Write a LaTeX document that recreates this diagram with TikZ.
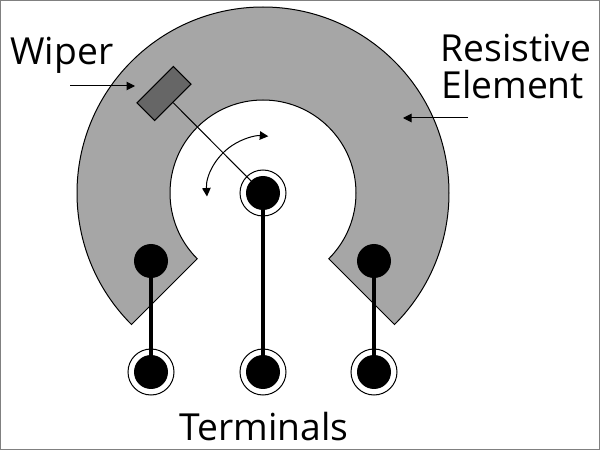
\documentclass[tikz,border=0pt]{standalone}
\usepackage{fontspec}
\setmainfont{Open Sans}
\usetikzlibrary{positioning}
\usetikzlibrary{arrows.meta}
\definecolor{elementgray}{HTML}{A6A6A6}
\definecolor{wipergray}{HTML}{666666}
\definecolor{framegray}{HTML}{808080}
\tikzset{
    thin line/.style={line width=0.02cm},
    pointer/.style={thin line,-{Triangle[length=0.17cm,width=0.17cm]}},
    dot/.style={circle,fill=black,inner sep=0pt,minimum size=0.68cm},
    ring/.style={circle,draw,thin line,fill=white,inner sep=0pt,minimum size=0.92cm},
    lead/.style={line width=0.08cm},
    label text/.style={font=\fontsize{21.2pt}{27pt}\selectfont,inner sep=0pt}
}
\begin{document}
\begin{tikzpicture}
    \useasboundingbox (0,0) rectangle (12,9);
    \draw[framegray,line width=0.06cm] (0,0) rectangle (12,9);

    %draw resistive element
    \draw[thin line,fill=elementgray] (5.26,5.14) ++(225:1.86)
        arc[start angle=225,end angle=-45,radius=1.86]
        -- ++(-45:1.86)
        arc[start angle=-45,end angle=225,radius=3.72] -- cycle;

    %draw terminals
    \node[ring] (hubring) at (5.26,5.14) {};
    \foreach \name/\x in {left/3.02,mid/5.26,right/7.48}
        \node[ring] (\name ring) at (\x,1.56) {};

    %draw wiper
    \node[thin line,draw,fill=wipergray,rotate=45,minimum width=1.03cm,minimum height=0.5cm,inner sep=0pt] (wiper) at (3.28,7.13) {};
    \draw[thin line] (wiper.south) -- (hubring.center);

    %draw dots
    \node[dot] (hub) at (5.26,5.14) {};
    \node[dot] (lefttop) at (3.02,3.78) {};
    \node[dot] (righttop) at (7.48,3.78) {};
    \node[dot] (leftbottom) at (3.02,1.56) {};
    \node[dot] (midbottom) at (5.26,1.56) {};
    \node[dot] (rightbottom) at (7.48,1.56) {};

    %draw leads
    \draw[lead] (lefttop) -- (leftbottom);
    \draw[lead] (hub) -- (midbottom);
    \draw[lead] (righttop) -- (rightbottom);

    %draw rotation arrow
    \draw[thin line,{Triangle[length=0.17cm,width=0.17cm]}-{Triangle[length=0.17cm,width=0.17cm]}] (4.14,5.07) arc[start angle=184,end angle=85,radius=1.13];

    %draw labels
    \node[label text,anchor=base west] (wiperlabel) at (0.2,7.71) {Wiper};
    \node[label text,anchor=base west] (resistivelabel) at (8.8,7.77) {Resistive};
    \node[label text,anchor=base west] (elementlabel) at (8.82,7.03) {Element};
    \node[label text,anchor=base west] (terminalslabel) at (3.58,0.19) {Terminals};

    %draw pointers
    \coordinate (wiperstart) at (1.4,7.28);
    \coordinate (wiperend) at (2.7,7.28);
    \coordinate (elementstart) at (9.36,6.64);
    \coordinate (elementend) at (8.06,6.64);
    \draw[pointer] (wiperstart) -- (wiperend);
    \draw[pointer] (elementstart) -- (elementend);
\end{tikzpicture}
\end{document}
